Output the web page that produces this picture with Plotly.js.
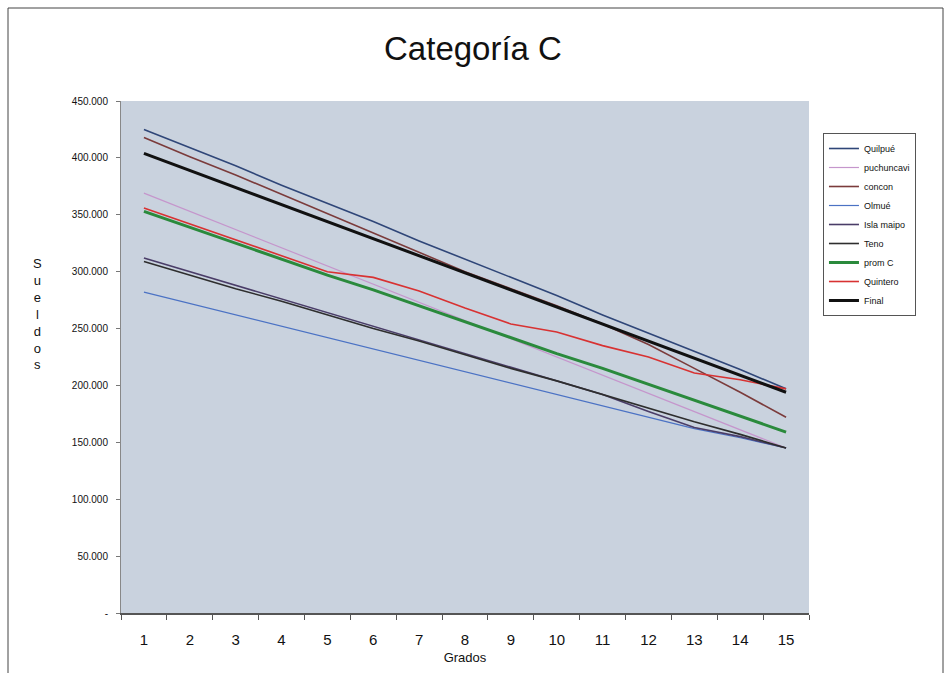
<!DOCTYPE html>
<html>
<head>
<meta charset="utf-8">
<script src="https://cdn.plot.ly/plotly-3.0.1.min.js"></script>
<style>html,body{margin:0;padding:0;background:#fff;}#chart{width:946px;height:673px;}</style>
</head>
<body>
<div id="chart"></div>
<script>
const grados = ["1","2","3","4","5","6","7","8","9","10","11","12","13","14","15"];

const quilpue    = [425, 409, 393, 376, 360, 344, 327, 311, 295, 279, 262, 246, 230, 214, 197];
const puchuncavi = [369, 353, 337, 321, 305, 289, 273, 257, 241, 225, 209, 193, 177, 161, 145];
const concon     = [418, 401, 385, 368, 351, 334, 317, 300, 285, 270, 254, 236, 215, 194, 172];
const olmue      = [282, 272, 262, 252, 242, 232, 222, 212, 202, 192, 182, 172, 162, 154, 145];
const islaMaipo  = [312, 300, 288, 276, 264, 252, 240, 228, 216, 204, 192, 177, 163, 155, 145];
const teno       = [309, 297, 285, 274, 262, 250, 239, 227, 215, 204, 192, 180, 168, 157, 145];
const promC      = [353, 339, 325, 311, 297, 284, 270, 256, 242, 228, 215, 201, 187, 173, 159];
const quintero   = [356, 342, 328, 314, 300, 295, 283, 268, 254, 247, 235, 225, 211, 205, 197];
const final      = [404, 389, 374, 359, 344, 329, 314, 299, 284, 269, 254, 239, 224, 209, 194];

const yTickVals = [0, 50000, 100000, 150000, 200000, 250000, 300000, 350000, 400000, 450000];
const yTickText = ["-", "50.000", "100.000", "150.000", "200.000", "250.000", "300.000", "350.000", "400.000", "450.000"];

const toPesos = arr => arr.map(v => v * 1000);

const seriesDefs = [
  {name: "Quilpué",    y: quilpue,    color: "#2f4678", width: 1.6},
  {name: "puchuncavi", y: puchuncavi, color: "#c596cc", width: 1.2},
  {name: "concon",     y: concon,     color: "#7b3b3b", width: 1.6},
  {name: "Olmué",      y: olmue,      color: "#4b72c4", width: 1.2},
  {name: "Isla maipo", y: islaMaipo,  color: "#4a3d68", width: 1.6},
  {name: "Teno",       y: teno,       color: "#2e2e2e", width: 1.6},
  {name: "prom C",     y: promC,      color: "#2a8a3c", width: 3},
  {name: "Quintero",   y: quintero,   color: "#d83232", width: 1.6},
  {name: "Final",      y: final,      color: "#111111", width: 3}
];

const traces = seriesDefs.map(s => ({
  type: "scatter",
  mode: "lines",
  name: s.name,
  x: grados,
  y: toPesos(s.y),
  line: {color: s.color, width: s.width},
  hoverinfo: "x+y+name"
}));

const layout = {
  width: 946,
  height: 673,
  margin: {l: 121, r: 137, t: 101, b: 60},
  paper_bgcolor: "#ffffff",
  plot_bgcolor: "#c9d2de",
  font: {family: "Liberation Sans, Arial, sans-serif", color: "#111"},
  title: {
    text: "Categoría C",
    font: {size: 33, color: "#111", family: "Liberation Sans, Arial, sans-serif"},
    x: 0.5, xanchor: "center",
    y: 0.928, yanchor: "middle"
  },
  xaxis: {
    type: "category",
    range: [-0.5, 14.5],
    tickson: "boundaries",
    ticks: "outside",
    ticklen: 5,
    tickcolor: "#555",
    showline: true,
    linecolor: "#555",
    linewidth: 1.5,
    showgrid: false,
    zeroline: false,
    tickfont: {size: 15, color: "#111"},
    ticklabelstandoff: 12,
    title: {text: "Grados", font: {size: 13, color: "#111"}, standoff: 6},
    fixedrange: true
  },
  yaxis: {
    range: [0, 450000],
    tickvals: yTickVals,
    ticktext: yTickText,
    ticks: "outside",
    ticklen: 4,
    tickcolor: "#777",
    showline: true,
    linecolor: "#888",
    linewidth: 1,
    showgrid: false,
    zeroline: false,
    tickfont: {size: 10, color: "#111"},
    ticklabelstandoff: 6,
    fixedrange: true
  },
  legend: {
    x: 1.0203, xanchor: "left",
    y: 0.9375, yanchor: "top",
    bgcolor: "#ffffff",
    bordercolor: "#555",
    borderwidth: 1,
    font: {size: 9, color: "#111"},
    itemwidth: 30,
    tracegroupgap: 0
  },
  annotations: [{
    text: "S<br>u<br>e<br>l<br>d<br>o<br>s",
    xref: "paper", yref: "paper",
    x: (37 - 121) / 688, y: (613 - 314) / 512,
    xanchor: "center", yanchor: "middle",
    showarrow: false,
    font: {size: 13, color: "#111"}
  }],
  shapes: [
    {type: "line", xref: "paper", yref: "paper", x0: (8 - 121) / 688, x1: (943 - 121) / 688, y0: (613 - 8) / 512, y1: (613 - 8) / 512, line: {color: "#444", width: 1}},
    {type: "line", xref: "paper", yref: "paper", x0: (8 - 121) / 688, x1: (8 - 121) / 688, y0: (613 - 8) / 512, y1: (613 - 673) / 512, line: {color: "#444", width: 1}},
    {type: "line", xref: "paper", yref: "paper", x0: (943 - 121) / 688, x1: (943 - 121) / 688, y0: (613 - 8) / 512, y1: (613 - 673) / 512, line: {color: "#444", width: 1}}
  ],
  showlegend: true
};

Plotly.newPlot("chart", traces, layout, {displayModeBar: false, staticPlot: false});
</script>
</body>
</html>
